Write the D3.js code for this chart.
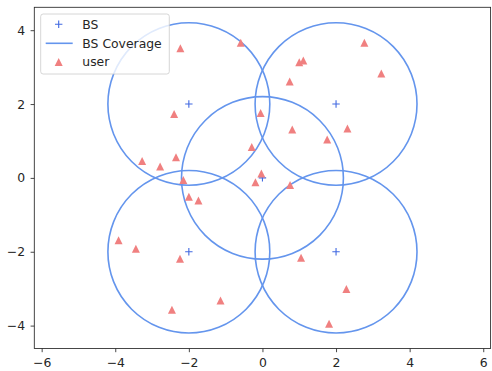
<!DOCTYPE html>
<html>
<head>
<meta charset="utf-8">
<script src="https://cdn.jsdelivr.net/npm/d3@7"></script>
<style>
  body { margin: 0; background: #fff; }
  text { font-family: "DejaVu Sans", sans-serif; }
</style>
</head>
<body>
<div id="chart"></div>
<script>
// Base stations and coverage radius
const bsX = [-2, 2, 0, -2, 2];
const bsY = [2, 2, 0, -2, -2];
const coverage = 2.2;

// Users
const userX = [-2.23, -0.59, -2.40, -3.27, -2.78, -2.35, -2.15, -2.00, -1.74, -3.91,
  -3.44, -2.24, -2.46, -1.14, -0.05, -0.29, -0.19, -0.03, 0.74, 1.00,
  1.11, 0.81, 1.76, 2.31, 2.77, 3.23, 0.75, 1.05, 2.28, 1.81];
const userY = [3.51, 3.66, 1.73, 0.46, 0.31, 0.56, -0.06, -0.51, -0.61, -1.69,
  -1.92, -2.19, -3.57, -3.32, 1.76, 0.84, -0.12, 0.12, 2.61, 3.13,
  3.18, 1.31, 1.04, 1.34, 3.66, 2.83, -0.19, -2.16, -3.01, -3.95];

const xTicks = [-6, -4, -2, 0, 2, 4, 6];
const yTicks = [-4, -2, 0, 2, 4];

const width = 492;
const height = 371;
const margin = { left: 34.3, right: 1.4, top: 7.3, bottom: 22.5 };
const fontSize = 12.4;

const svg = d3.select("#chart")
  .append("svg")
  .attr("width", width)
  .attr("height", height);

const x = d3.scaleLinear()
  .domain([-6.2, 6.2])
  .range([margin.left, width - margin.right]);

const y = d3.scaleLinear()
  .domain([-4.62, 4.62])
  .range([height - margin.bottom, margin.top]);

const bsColor = "#4169e1";
const circleColor = "#6495ed";
const userColor = "#f08080";

const plot = svg.append("g");

// Coverage circles
plot.selectAll("ellipse")
  .data(bsX)
  .enter().append("ellipse")
  .attr("cx", d => x(d))
  .attr("cy", (d, i) => y(bsY[i]))
  .attr("rx", x(coverage) - x(0))
  .attr("ry", y(0) - y(coverage))
  .attr("fill", "none")
  .attr("stroke", circleColor)
  .attr("stroke-width", 1.6);

// BS markers
function plusPath(s) {
  return `M${-s},0H${s}M0,${-s}V${s}`;
}
plot.selectAll(".bs")
  .data(bsX)
  .enter().append("path")
  .attr("class", "bs")
  .attr("transform", (d, i) => `translate(${x(d)},${y(bsY[i])})`)
  .attr("d", plusPath(3.7))
  .attr("stroke", bsColor)
  .attr("stroke-width", 1.1);

// Users
const tri = s => `M0,${-s / 2}L${s / 2},${s / 2}L${-s / 2},${s / 2}Z`;
plot.selectAll(".user")
  .data(userX)
  .enter().append("path")
  .attr("class", "user")
  .attr("transform", (d, i) => `translate(${x(d)},${y(userY[i])})`)
  .attr("d", tri(8))
  .attr("fill", userColor);

// Axes
const xAxis = svg.append("g")
  .attr("transform", `translate(0,${height - margin.bottom})`)
  .call(d3.axisBottom(x).tickValues(xTicks).tickSize(3.7).tickPadding(6).tickSizeOuter(0));
const yAxis = svg.append("g")
  .attr("transform", `translate(${margin.left},0)`)
  .call(d3.axisLeft(y).tickValues(yTicks).tickSize(3.7).tickPadding(5.5).tickSizeOuter(0));

[xAxis, yAxis].forEach(a => {
  a.selectAll("text").attr("font-size", fontSize).attr("fill", "#262626")
    .style("font-family", "DejaVu Sans");
  a.selectAll("line").attr("stroke", "#262626").attr("stroke-width", 0.85);
  a.select(".domain").remove();
});

// Frame
svg.append("rect")
  .attr("x", margin.left)
  .attr("y", margin.top)
  .attr("width", width - margin.left - margin.right)
  .attr("height", height - margin.top - margin.bottom)
  .attr("fill", "none")
  .attr("stroke", "#262626")
  .attr("stroke-width", 0.85);

// Legend
const legend = svg.append("g");
legend.append("rect")
  .attr("x", 40.7)
  .attr("y", 14)
  .attr("width", 128.6)
  .attr("height", 60)
  .attr("rx", 2.5)
  .attr("fill", "#fff")
  .attr("fill-opacity", 0.8)
  .attr("stroke", "#cccccc")
  .attr("stroke-width", 0.8);

const rows = ["BS", "BS Coverage", "user"];
const rowY = [24.3, 43.3, 62];

legend.append("path")
  .attr("transform", `translate(58.7,${rowY[0]})`)
  .attr("d", plusPath(3.7))
  .attr("stroke", bsColor)
  .attr("stroke-width", 1.1);
legend.append("line")
  .attr("x1", 45.7).attr("x2", 72.7)
  .attr("y1", rowY[1]).attr("y2", rowY[1])
  .attr("stroke", circleColor)
  .attr("stroke-width", 1.6);
legend.append("path")
  .attr("transform", `translate(58.7,${rowY[2]})`)
  .attr("d", tri(8))
  .attr("fill", userColor);

legend.selectAll("text")
  .data(rows)
  .enter().append("text")
  .attr("x", 82.3)
  .attr("y", (d, i) => rowY[i])
  .attr("dy", "0.36em")
  .attr("font-size", fontSize)
  .attr("fill", "#262626")
  .text(d => d);
</script>
</body>
</html>
